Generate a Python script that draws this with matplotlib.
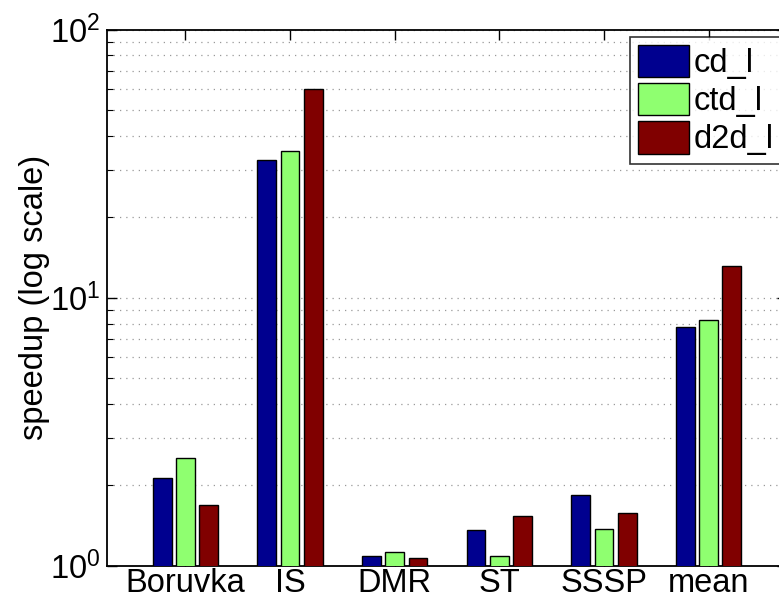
import numpy as np
import matplotlib.pyplot as plt
from matplotlib.ticker import LogLocator, FixedLocator

plt.rcParams['font.family'] = 'Liberation Sans'
plt.rcParams['mathtext.fontset'] = 'custom'
plt.rcParams['mathtext.rm'] = 'Liberation Sans'
plt.rcParams['mathtext.it'] = 'Liberation Sans'

categorias = ['Boruvka', 'IS', 'DMR', 'ST', 'SSSP', 'mean']
series = ['cd_l', 'ctd_l', 'd2d_l']
cd_l = [2.12, 32.6, 1.087, 1.356, 1.83, 7.78]
ctd_l = [2.52, 35.3, 1.122, 1.084, 1.367, 8.26]
d2d_l = [1.685, 60.2, 1.071, 1.53, 1.57, 13.1]
colores = ['#00008f', '#8fff70', '#800000']

fig = plt.figure(figsize=(7.79, 6.07), dpi=100)
# el eje se sale un poco por la derecha como en el original
ax = fig.add_axes([107 / 779, (607 - 565.7) / 607, (787 - 107) / 779, (565.7 - 29.5) / 607])

x = np.arange(1, len(categorias) + 1)
ancho = 0.18
desp = 0.222
for i, (vals, nombre) in enumerate(zip([cd_l, ctd_l, d2d_l], series)):
    ax.bar(x + (i - 1) * desp, vals, width=ancho, color=colores[i],
           edgecolor='black', linewidth=1.0, label=nombre, zorder=3)

ax.set_yscale('log')
ax.set_ylim(1, 100)
ax.set_xlim(0.25, 6.75)
ax.set_xticks(x)
ax.set_xticklabels(categorias, fontsize=23.5)
ax.yaxis.set_major_locator(FixedLocator([1, 10, 100]))
ax.set_yticklabels(['$10^0$', '$10^1$', '$10^2$'], fontsize=23.5)
ax.yaxis.set_minor_locator(LogLocator(base=10, subs=np.arange(2, 10)))
ax.tick_params(which='both', direction='in', top=True, right=True)
ax.tick_params(which='major', length=7, width=1)
ax.tick_params(which='minor', length=4, width=0.8)
ax.tick_params(axis='x', pad=2)
ax.tick_params(axis='y', pad=5)
ax.grid(True, which='both', axis='y', linestyle=(0, (1, 4)), color='#999999', linewidth=0.9, zorder=0)
ax.set_ylabel('speedup (log scale)', fontsize=23.5)
ax.yaxis.set_label_coords((50 - 107) / 680, 0.5)
for s in ax.spines.values():
    s.set_linewidth(1.3)

leg = ax.legend(loc='upper right', bbox_to_anchor=((779 - 107 + 3) / 680, (565.7 - 36.7) / 536.2),
                fontsize=23.5, frameon=True, fancybox=False, edgecolor='black',
                handlelength=1.55, handleheight=1.15, handletextpad=0.15,
                borderpad=0.25, labelspacing=0.12, borderaxespad=0)
leg.get_frame().set_linewidth(1.2)

fig.savefig('out.png', dpi=100)
